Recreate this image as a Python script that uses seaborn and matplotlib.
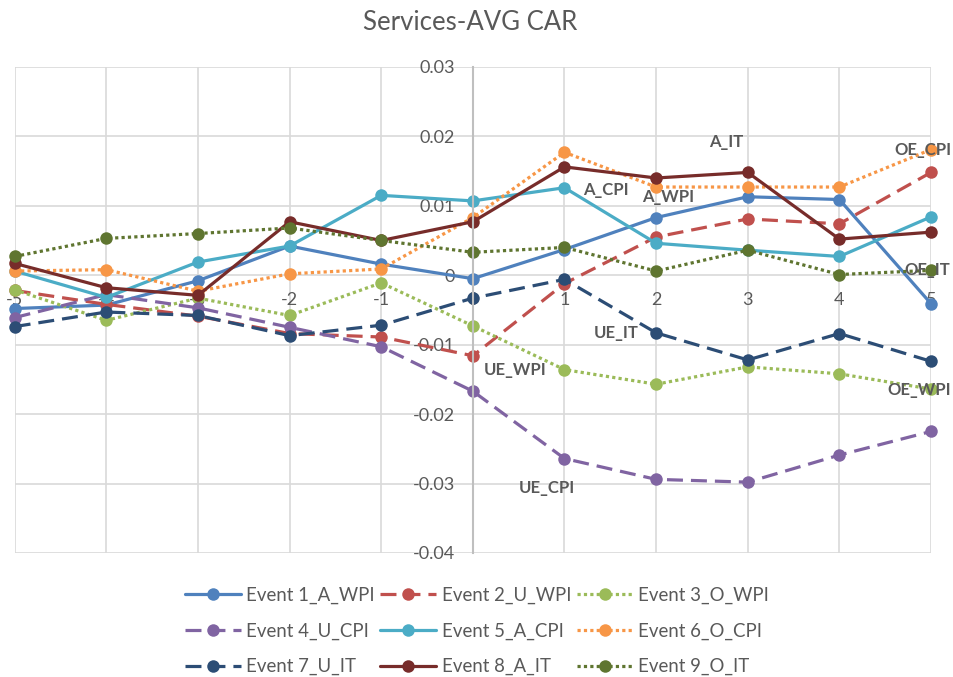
import numpy as np
import pandas as pd
import seaborn as sns
import matplotlib.pyplot as plt

# event window days
days = [-5, -4, -3, -2, -1, 0, 1, 2, 3, 4, 5]

names = ['Event 1_A_WPI', 'Event 2_U_WPI', 'Event 3_O_WPI',
         'Event 4_U_CPI', 'Event 5_A_CPI', 'Event 6_O_CPI',
         'Event 7_U_IT', 'Event 8_A_IT', 'Event 9_O_IT']

a_wpi = [-0.0048, -0.0043, -0.0008, 0.0042, 0.0016, -0.0005, 0.0037, 0.0083, 0.0113, 0.0109, -0.0041]
u_wpi = [-0.0022, -0.0042, -0.0059, -0.0084, -0.0089, -0.0116, -0.0012, 0.0055, 0.0081, 0.0074, 0.0148]
o_wpi = [-0.0021, -0.0065, -0.0033, -0.0058, -0.0011, -0.0073, -0.0136, -0.0157, -0.0132, -0.0142, -0.0164]
u_cpi = [-0.0061, -0.0028, -0.0047, -0.0075, -0.0103, -0.0167, -0.0264, -0.0294, -0.0298, -0.0259, -0.0225]
a_cpi = [0.0006, -0.0032, 0.0019, 0.0042, 0.0115, 0.0107, 0.0126, 0.0046, 0.0036, 0.0027, 0.0084]
o_cpi = [0.0006, 0.0008, -0.0023, 0.0002, 0.0009, 0.0083, 0.0177, 0.0127, 0.0127, 0.0127, 0.0181]
u_it = [-0.0074, -0.0053, -0.0058, -0.0087, -0.0072, -0.0033, -0.0006, -0.0083, -0.0122, -0.0084, -0.0124]
a_it = [0.0017, -0.0018, -0.0029, 0.0077, 0.0050, 0.0077, 0.0156, 0.0140, 0.0148, 0.0052, 0.0062]
o_it = [0.0027, 0.0053, 0.0060, 0.0068, 0.0050, 0.0033, 0.0040, 0.0006, 0.0036, 0.0001, 0.0007]

colors = ['#4F81BD', '#C0504D', '#9BBB59', '#8064A2', '#4BACC6',
          '#F79646', '#2C4D75', '#772C2A', '#5F7530']
solid, dash, dot = '', (5, 2.5), (1, 1)
styles = [solid, dash, dot, dash, solid, dot, dash, solid, dot]

yticks = [0.03, 0.02, 0.01, 0, -0.01, -0.02, -0.03, -0.04]
ytick_labels = ['0.03', '0.02', '0.01', '0', '-0.01', '-0.02', '-0.03', '-0.04']

# text labels put next to some of the lines
notes = ['A_CPI', 'A_WPI', 'A_IT', 'OE_CPI', 'OE_IT', 'UE_IT', 'UE_WPI', 'UE_CPI', 'OE_WPI']
note_x = [1.45, 2.13, 2.77, 4.91, 4.96, 1.56, 0.46, 0.81, 4.87]
note_y = [0.0123, 0.0112, 0.0192, 0.0180, 0.0008, -0.0083, -0.0137, -0.0306, -0.0166]

series = [a_wpi, u_wpi, o_wpi, u_cpi, a_cpi, o_cpi, u_it, a_it, o_it]
df = pd.DataFrame({
    'day': days * len(names),
    'car': [v for s in series for v in s],
    'event': [n for n in names for _ in days],
})

sns.set_style('white')
plt.rcParams['font.family'] = ['Lato', 'DejaVu Sans']
grey = '#595959'

fig = plt.figure(figsize=(9.54, 6.77), dpi=100)
ax = fig.add_axes([0.0154, 0.1832, 0.9605, 0.718])

sns.lineplot(data=df, x='day', y='car', hue='event', style='event',
             hue_order=names, style_order=names,
             palette=dict(zip(names, colors)),
             dashes=dict(zip(names, styles)),
             markers=dict(zip(names, ['o'] * 9)),
             markersize=9, markeredgewidth=0, linewidth=2.3,
             clip_on=False, legend=False, ax=ax)

ax.set_xlim(-5, 5)
ax.set_ylim(-0.04, 0.03)
ax.set_xticks(days)
ax.set_xticklabels([str(d) for d in days])
ax.set_yticks(yticks)
ax.set_yticklabels(ytick_labels)
ax.grid(True, color='#D9D9D9', linewidth=1.2)
ax.set_axisbelow(True)
for s in ['top', 'right', 'bottom']:
    ax.spines[s].set_visible(False)
ax.spines['left'].set_position(('data', 0))
ax.spines['left'].set_color('#BFBFBF')
ax.spines['left'].set_linewidth(1.5)
ax.spines['bottom'].set_position(('data', 0))
ax.tick_params(axis='both', length=0, labelsize=13, labelcolor=grey)
ax.tick_params(axis='x', pad=12)
ax.tick_params(axis='y', pad=13)
ax.set_xlabel('')
ax.set_ylabel('')

for t, x, y in zip(notes, note_x, note_y):
    ax.text(x, y, t, ha='center', va='center', fontsize=12,
            fontweight='bold', color=grey)

fig.suptitle('Services-AVG CAR', x=0.493, y=0.985, fontsize=18.5, color=grey)

order = [0, 3, 6, 1, 4, 7, 2, 5, 8]
lines = ax.get_lines()
fig.legend([lines[i] for i in order], [names[i] for i in order],
           loc='center', bbox_to_anchor=(0.5, 0.068), ncol=3, frameon=False,
           fontsize=13.4, labelcolor=grey, handlelength=3.0,
           columnspacing=0.3, labelspacing=1.0, handletextpad=0.3)

fig.savefig('out.png', dpi=100)
